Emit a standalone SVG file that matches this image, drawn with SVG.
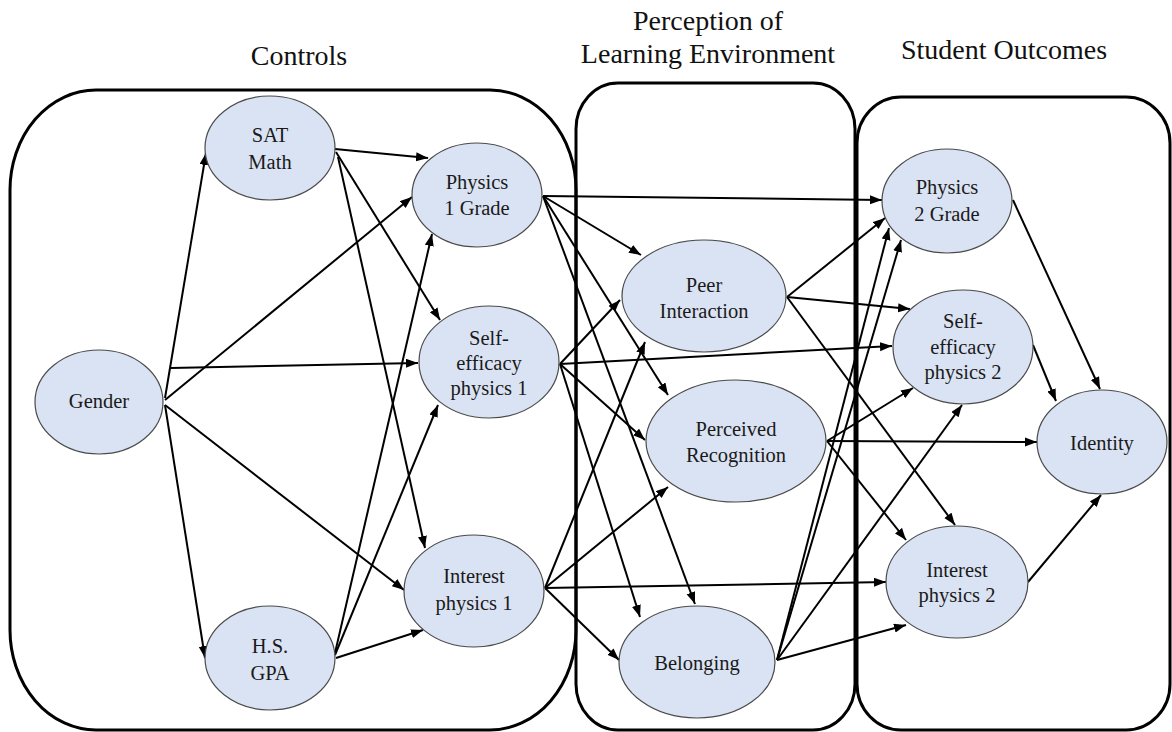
<svg xmlns="http://www.w3.org/2000/svg" width="1172" height="732" viewBox="0 0 1172 732">
  <style>
    .panel { fill: none; stroke: #000; stroke-width: 3; }
    .head { font-size: 28px; fill: #111; text-anchor: middle; }
    .node ellipse { fill: #dae3f3; stroke: #4a4a4a; stroke-width: 1.2; }
    .node text { font-size: 20.5px; fill: #1a1a1a; text-anchor: middle; }
    .edges line { stroke: #000; stroke-width: 2; marker-end: url(#arrow); }
  </style>
  <defs>
    <marker id="arrow" markerUnits="userSpaceOnUse" markerWidth="13" markerHeight="10" refX="12" refY="4.5" orient="auto">
      <path d="M0,0 L12,4.5 L0,9 z" fill="#000"/>
    </marker>
  </defs>

  <rect width="1172" height="732" fill="#fff"/>

  <!-- section panels -->
  <g id="panels">
    <rect class="panel" x="10" y="90" width="566" height="640" rx="86" ry="100"/>
    <rect class="panel" x="576" y="83" width="279" height="647" rx="42" ry="46"/>
    <rect class="panel" x="857" y="97" width="313" height="633" rx="44" ry="46"/>
  </g>

  <!-- section headings -->
  <g id="headings" font-family="'Liberation Serif', Tinos, 'Times New Roman', 'DejaVu Serif', serif">
    <text class="head" x="299" y="65">Controls</text>
    <text class="head" x="708" y="30">Perception of</text>
    <text class="head" x="708" y="63">Learning Environment</text>
    <text class="head" x="1004" y="59">Student Outcomes</text>
  </g>

  <!-- connectors -->
  <g class="edges" id="connectors">
    <!-- Gender -->
    <line x1="165" y1="398" x2="206" y2="153"/>
    <line x1="165" y1="400" x2="412" y2="197"/>
    <line x1="171" y1="368" x2="418" y2="363"/>
    <line x1="165" y1="405" x2="404" y2="590"/>
    <line x1="165" y1="405" x2="205" y2="658"/>
    <!-- SAT Math -->
    <line x1="335" y1="149" x2="428" y2="158"/>
    <line x1="336" y1="152" x2="440" y2="320"/>
    <line x1="338" y1="157" x2="425" y2="548"/>
    <!-- H.S. GPA -->
    <line x1="335" y1="653" x2="432" y2="234"/>
    <line x1="335" y1="655" x2="438" y2="405"/>
    <line x1="336" y1="658" x2="423" y2="630"/>
    <!-- Physics 1 Grade -->
    <line x1="543" y1="196" x2="882" y2="200"/>
    <line x1="543" y1="196" x2="641" y2="255"/>
    <line x1="543" y1="196" x2="668" y2="395"/>
    <line x1="543" y1="196" x2="695" y2="604"/>
    <!-- Self-efficacy physics 1 -->
    <line x1="560" y1="364" x2="620" y2="300"/>
    <line x1="560" y1="364" x2="892" y2="346"/>
    <line x1="560" y1="364" x2="645" y2="440"/>
    <line x1="560" y1="364" x2="640" y2="617"/>
    <!-- Interest physics 1 -->
    <line x1="545" y1="588" x2="645" y2="342"/>
    <line x1="545" y1="588" x2="668" y2="487"/>
    <line x1="545" y1="588" x2="886" y2="582"/>
    <line x1="545" y1="588" x2="619" y2="660"/>
    <!-- Peer Interaction -->
    <line x1="787" y1="297" x2="885" y2="218"/>
    <line x1="787" y1="297" x2="910" y2="309"/>
    <line x1="787" y1="297" x2="955" y2="525"/>
    <!-- Perceived Recognition -->
    <line x1="827" y1="441" x2="913" y2="388"/>
    <line x1="827" y1="441" x2="1037" y2="442"/>
    <line x1="827" y1="441" x2="906" y2="540"/>
    <!-- Belonging -->
    <line x1="777" y1="660" x2="889" y2="228"/>
    <line x1="777" y1="660" x2="901" y2="240"/>
    <line x1="777" y1="660" x2="962" y2="405"/>
    <line x1="777" y1="660" x2="906" y2="625"/>
    <!-- outcomes to Identity -->
    <line x1="1013" y1="200" x2="1100" y2="389"/>
    <line x1="1033" y1="345" x2="1056" y2="401"/>
    <line x1="1028" y1="582" x2="1101" y2="495"/>
  </g>

  <!-- nodes -->
  <g id="nodes" font-family="'Liberation Serif', Tinos, 'Times New Roman', 'DejaVu Serif', serif">
  <g class="node" id="gender">
    <ellipse cx="99" cy="402" rx="64" ry="52"/>
    <text x="99" y="408">Gender</text>
  </g>
  <g class="node" id="sat-math">
    <ellipse cx="270" cy="148" rx="65" ry="52"/>
    <text x="270" y="142">SAT</text>
    <text x="270" y="169">Math</text>
  </g>
  <g class="node" id="hs-gpa">
    <ellipse cx="270" cy="658" rx="65" ry="52"/>
    <text x="270" y="653">H.S.</text>
    <text x="270" y="680">GPA</text>
  </g>
  <g class="node" id="physics1-grade">
    <ellipse cx="477" cy="195" rx="65" ry="52"/>
    <text x="477" y="189">Physics</text>
    <text x="477" y="215">1 Grade</text>
  </g>
  <g class="node" id="self-efficacy1">
    <ellipse cx="489" cy="362" rx="70" ry="56"/>
    <text x="489" y="345">Self-</text>
    <text x="489" y="370">efficacy</text>
    <text x="489" y="395">physics 1</text>
  </g>
  <g class="node" id="interest1">
    <ellipse cx="474" cy="591" rx="70" ry="56"/>
    <text x="474" y="583">Interest</text>
    <text x="474" y="610">physics 1</text>
  </g>
  <g class="node" id="peer-interaction">
    <ellipse cx="704" cy="296" rx="82" ry="56"/>
    <text x="704" y="292">Peer</text>
    <text x="704" y="318">Interaction</text>
  </g>
  <g class="node" id="perceived-recognition">
    <ellipse cx="736" cy="441" rx="90" ry="61"/>
    <text x="736" y="436">Perceived</text>
    <text x="736" y="462">Recognition</text>
  </g>
  <g class="node" id="belonging">
    <ellipse cx="697" cy="662" rx="78" ry="56"/>
    <text x="697" y="670">Belonging</text>
  </g>
  <g class="node" id="physics2-grade">
    <ellipse cx="947" cy="201" rx="65" ry="52"/>
    <text x="947" y="194">Physics</text>
    <text x="947" y="221">2 Grade</text>
  </g>
  <g class="node" id="self-efficacy2">
    <ellipse cx="963" cy="347" rx="70" ry="57"/>
    <text x="963" y="328">Self-</text>
    <text x="963" y="354">efficacy</text>
    <text x="963" y="379">physics 2</text>
  </g>
  <g class="node" id="interest2">
    <ellipse cx="957" cy="582" rx="71" ry="56"/>
    <text x="957" y="577">Interest</text>
    <text x="957" y="602">physics 2</text>
  </g>
  <g class="node" id="identity">
    <ellipse cx="1102" cy="442" rx="65" ry="52"/>
    <text x="1102" y="450">Identity</text>
  </g>
  </g>
</svg>
